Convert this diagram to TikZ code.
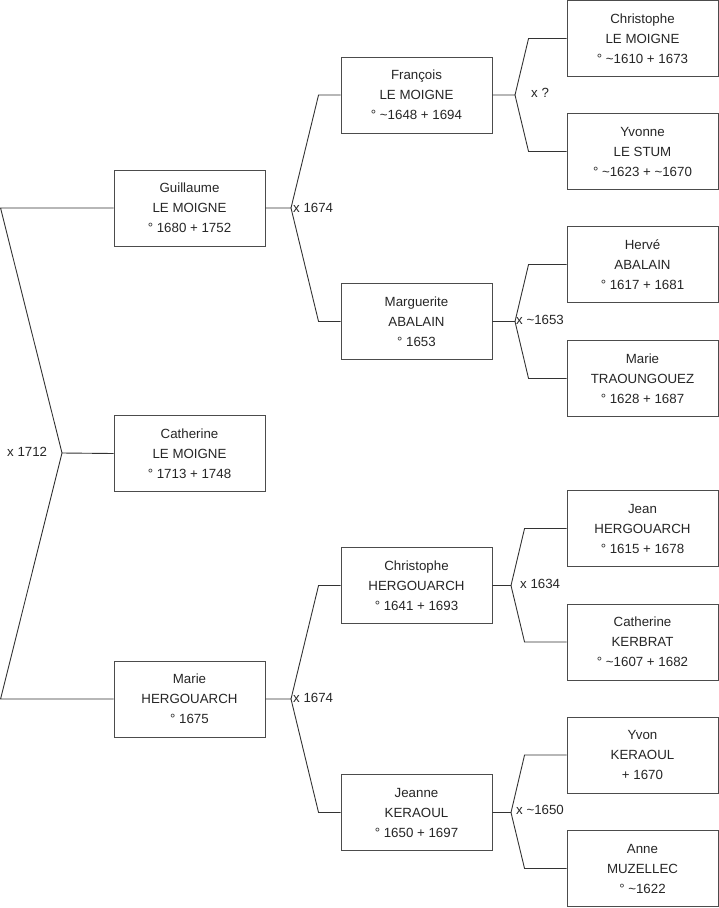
\documentclass[tikz,border=0pt]{standalone}
\usepackage{fontspec}
\setmainfont{Liberation Sans}
\usepackage{tikz}
\newcommand{\ca}{\textasciitilde}

\begin{document}
\begin{tikzpicture}[x=1pt, y=-1pt,
  person/.style={draw=black!70, line width=0.9pt, fill=white, minimum width=151pt,
    minimum height=76pt, inner sep=0pt, align=center, text=black!85,
    font=\fontsize{13.3}{20}\selectfont},
  link/.style={draw=black!80, line width=0.9pt},
  wed/.style={anchor=west, inner sep=0pt, text=black!85, font=\fontsize{13.3}{15}\selectfont}]

  \useasboundingbox (0,0) rectangle (719,908);

  % ---- generation 1 ----
  \node[person] (guillaume) at (189.5,208)   {Guillaume\\LE MOIGNE\\° 1680 + 1752};
  \node[person] (catherine) at (189.5,453.5) {Catherine\\LE MOIGNE\\° 1713 + 1748};
  \node[person] (marie)     at (189.5,699)   {Marie\\HERGOUARCH\\° 1675};

  % ---- generation 2 ----
  \node[person] (francois)   at (416.5,95)    {François\\LE MOIGNE\\° \ca1648 + 1694};
  \node[person] (marguerite) at (416.5,321.5) {Marguerite\\ABALAIN\\° 1653};
  \node[person] (christophe) at (416.5,585.5) {Christophe\\HERGOUARCH\\° 1641 + 1693};
  \node[person] (jeanne)     at (416.5,812.5) {Jeanne\\KERAOUL\\° 1650 + 1697};

  % ---- generation 3 ----
  \node[person] (christopheLM) at (642.5,38.5)  {Christophe\\LE MOIGNE\\° \ca1610 + 1673};
  \node[person] (yvonne)       at (642.5,151.5) {Yvonne\\LE STUM\\° \ca1623 + \ca1670};
  \node[person] (herve)        at (642.5,264.5) {Hervé\\ABALAIN\\° 1617 + 1681};
  \node[person] (marieT)       at (642.5,378.5) {Marie\\TRAOUNGOUEZ\\° 1628 + 1687};
  \node[person] (jean)         at (642.5,528.5) {Jean\\HERGOUARCH\\° 1615 + 1678};
  \node[person] (catherineK)   at (642.5,642)   {Catherine\\KERBRAT\\° \ca1607 + 1682};
  \node[person] (yvon)         at (642.5,755)   {Yvon\\KERAOUL\\+ 1670};
  \node[person] (anne)         at (642.5,868.5) {Anne\\MUZELLEC\\° \ca1622};

  % ---- parents of Catherine ----
  \coordinate (m0) at (62,453);
  \draw[link] (guillaume.west) -- ([xshift=-113pt]guillaume.west) -- (m0) -- (catherine.west);
  \draw[link] (marie.west) -- ([xshift=-113pt]marie.west) -- (m0);
  \node[wed] (w0) at (7,452) {x 1712};

  % ---- parents of Guillaume ----
  \coordinate (m1) at (291,208);
  \draw[link] (guillaume.east) -- (m1) -- ([xshift=-22pt]francois.west) -- (francois.west);
  \draw[link] (m1) -- ([xshift=-22pt]marguerite.west) -- (marguerite.west);
  \node[wed] (w1) at (293,208) {x 1674};

  % ---- parents of Marie ----
  \coordinate (m2) at (291,699);
  \draw[link] (marie.east) -- (m2) -- ([xshift=-22pt]christophe.west) -- (christophe.west);
  \draw[link] (m2) -- ([xshift=-22pt]jeanne.west) -- (jeanne.west);
  \node[wed] (w2) at (293,698) {x 1674};

  % ---- parents of François ----
  \coordinate (m3) at (515,95);
  \draw[link] (francois.east) -- (m3) -- ([xshift=-38pt]christopheLM.west) -- (christopheLM.west);
  \draw[link] (m3) -- ([xshift=-38pt]yvonne.west) -- (yvonne.west);
  \node[wed] (w3) at (531,93) {x ?};

  % ---- parents of Marguerite ----
  \coordinate (m4) at (515,321.5);
  \draw[link] (marguerite.east) -- (m4) -- ([xshift=-38pt]herve.west) -- (herve.west);
  \draw[link] (m4) -- ([xshift=-38pt]marieT.west) -- (marieT.west);
  \node[wed] (w4) at (516,320) {x \ca1653};

  % ---- parents of Christophe ----
  \coordinate (m5) at (511,585.5);
  \draw[link] (christophe.east) -- (m5) -- ([xshift=-42pt]jean.west) -- (jean.west);
  \draw[link] (m5) -- ([xshift=-42pt]catherineK.west) -- (catherineK.west);
  \node[wed] (w5) at (520,584) {x 1634};

  % ---- parents of Jeanne ----
  \coordinate (m6) at (511,812.5);
  \draw[link] (jeanne.east) -- (m6) -- ([xshift=-42pt]yvon.west) -- (yvon.west);
  \draw[link] (m6) -- ([xshift=-42pt]anne.west) -- (anne.west);
  \node[wed] (w6) at (516,810) {x \ca1650};

\end{tikzpicture}
\end{document}
